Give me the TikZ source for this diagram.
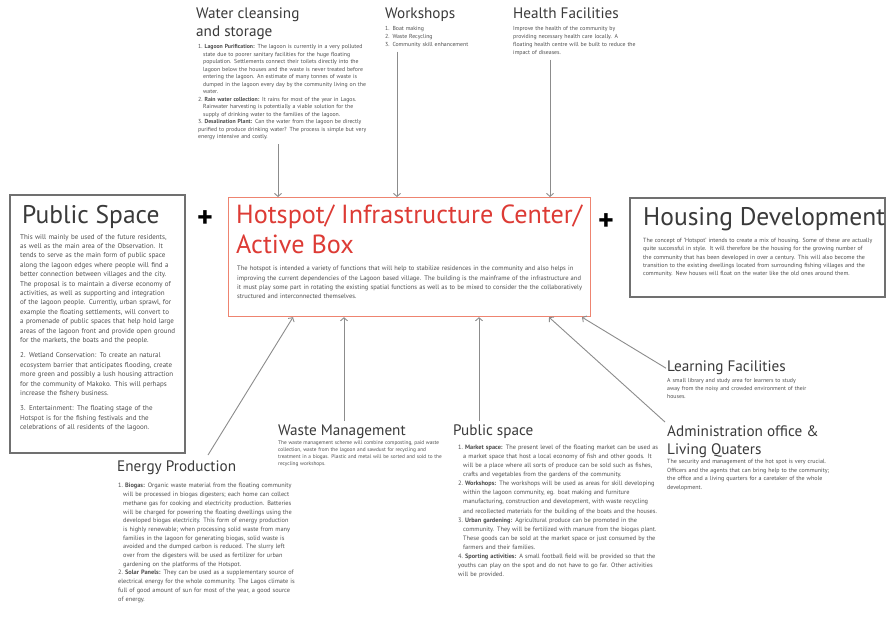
\documentclass[tikz,border=0pt]{standalone}
\usepackage{fontspec}
\setmainfont{PT Sans}
\usepackage{xcolor}
\usetikzlibrary{arrows.meta}
\definecolor{ink}{HTML}{3A3A3A}
\definecolor{grey}{HTML}{4E4E4E}
\definecolor{hotred}{HTML}{DD3B35}
\definecolor{hotline}{HTML}{EE8470}
\definecolor{wire}{HTML}{8C8C8C}
\definecolor{frame}{HTML}{707070}
\tikzset{
  bigtitle/.style={text=ink, inner sep=0pt, anchor=north west, font=\fontsize{25.5}{28}\selectfont},
  subtitle/.style={text=ink, inner sep=0pt, anchor=north west, align=left, font=\fontsize{15.2}{18}\selectfont},
  blurb/.style={text=grey, inner sep=0pt, anchor=north west, align=left},
  framebox/.style={draw=frame, line width=1.1pt},
  hubbox/.style={draw=hotline, line width=1.2pt, inner sep=0pt, anchor=north west},
  feed/.style={draw=wire, line width=0.9pt, -{Straight Barb[length=3pt,width=7pt]}},
  plus/.style={text=black, inner sep=0pt, font=\fontsize{30}{30}\selectfont\bfseries}
}
\newcommand{\txt}[2]{\fontsize{#1}{#2}\selectfont\hyphenpenalty=10000\exhyphenpenalty=10000}
\newcommand{\litem}[3]{\par\noindent\hangindent=5pt\hangafter=1 #1.~\textbf{#2} #3}

\begin{document}
\begin{tikzpicture}[x=1pt,y=-1pt]
  \fill[white] (0,0) rectangle (888,622);
  \useasboundingbox (0,0) rectangle (888,622);

  % centre box
  \node[hubbox, minimum width=362pt, minimum height=119pt] (hub) at (228,197) {};
  \node[text=hotred, inner sep=0pt, anchor=north west, align=left,
        font=\fontsize{26.2}{30}\selectfont] (hubtitle) at (236,205)
        {Hotspot/ Infrastructure Center/\\Active Box};
  \node[blurb, text width=345pt, font=\txt{6.5}{9.3}] (hubtext) at (237,266)
        {The hotspot is intended a variety of functions that will help to stabilize residences in the community and
         also helps in improving the current dependencies of the Lagoon based village. The building is the mainframe
         of the infrastructure and it must play some part in rotating the existing spatial functions as well as to be mixed to
         consider the the collaboratively structured and interconnected themselves.};

  % side boxes
  \draw[framebox] (10,195) rectangle (185,453);
  \node[bigtitle] (pubspace) at (22,205) {Public Space};
  \node[blurb, text width=156pt, font=\txt{7}{9.4}] (pubtext) at (20,234)
        {This will mainly be used of the future residents, as well as the main area of the
         Observation. It tends to serve as the main form of public space along the lagoon
         edges where people will find a better connection between villages and the city.
         The proposal is to maintain a diverse economy of activities, as well as
         supporting and integration of the lagoon people. Currently, urban sprawl, for example
         the floating settlements, will convert to a promenade of public spaces that help hold
         large areas of the lagoon front and provide open ground for the markets, the boats and
         the people.\par\vspace{6pt}
         \noindent 2. Wetland Conservation: To create an natural ecosystem barrier that anticipates
         flooding, create more green and possibly a lush housing attraction for the community of
         Makoko. This will perhaps increase the fishery business.\par\vspace{6pt}
         \noindent 3. Entertainment: The floating stage of the Hotspot is for the fishing festivals
         and the celebrations of all residents of the lagoon.};

  \draw[framebox] (630,198) rectangle (885,297);
  \node[bigtitle] (housing) at (643,207) {Housing Development};
  \node[blurb, text width=238pt, font=\txt{6}{8.3}] (housetext) at (643,238)
        {The concept of 'Hotspot' intends to create a mix of housing. Some of these are actually quite
         successful in style. It will therefore be the housing for the growing number of the community
         that has been developed in over a century. This will also become the transition to the existing
         dwellings located from surrounding fishing villages and the community. New houses will float
         on the water like the old ones around them.};

  \node[plus] (plusL) at (205,219) {+};
  \node[plus] (plusR) at (606,222) {+};

  % feeds from above
  \node[subtitle] (water) at (196,8) {Water cleansing\\and storage};
  \node[blurb, text width=170pt, font=\txt{5.8}{7.5}] (wbody) at (198,41)
        {\litem{1}{Lagoon Purification:}{The lagoon is currently in a very polluted state due to poorer
         sanitary facilities for the huge floating population. Settlements connect their toilets directly
         into the lagoon below the houses and the waste is never treated before entering the
         lagoon. An estimate of many tonnes of waste is dumped in the lagoon every day by the community
         living on the water.}
         \litem{2}{Rain water collection:}{It rains for most of the year in Lagos. Rainwater harvesting is
         potentially a viable solution for the supply of drinking water to the families of the lagoon.}
         \litem{3}{Desalination Plant:}{Can the water from the lagoon be directly purified to produce drinking
         water? The process is simple but very energy intensive and costly.}};
  \node[subtitle] (workshops) at (385,8) {Workshops};
  \node[blurb, text width=110pt, font=\txt{5.8}{8}] (wsbody) at (385,26)
        {1. Boat making\\2. Waste Recycling\\3. Community skill enhancement};
  \node[subtitle] (health) at (513,8) {Health Facilities};
  \node[blurb, text width=125pt, font=\txt{5.8}{8}] (hbody) at (513,26)
        {Improve the health of the community by providing necessary health care locally. A floating
         health centre will be built to reduce the impact of diseases.};

  \draw[feed] ([xshift=80pt,yshift=-4pt]wbody.south west) -- ([xshift=50pt]hub.north west);
  \draw[feed] ([xshift=12pt,yshift=-4pt]wsbody.south west) -- ([xshift=169pt]hub.north west);
  \draw[feed] ([xshift=37pt,yshift=-4pt]hbody.south west) -- ([xshift=322pt]hub.north west);

  % feeds from below
  \node[subtitle] (energy) at (117,461) {Energy Production};
  \node[blurb, text width=178pt, font=\txt{6.3}{8.7}] (ebody) at (118,479)
        {\litem{1}{Biogas:}{Organic waste material from the floating community will be processed in biogas
         digesters; each home can collect methane gas for cooking and electricity production. Batteries
         will be charged for powering the floating dwellings using the developed biogas electricity. This form
         of energy production is highly renewable; when processing solid waste from many families
         in the lagoon for generating biogas, solid waste is avoided and the dumped carbon is reduced.
         The slurry left over from the digesters will be used as fertilizer for urban gardening on the
         platforms of the Hotspot.}
         \litem{2}{Solar Panels:}{They can be used as a supplementary source of electrical energy for the whole
         community. The Lagos climate is full of good amount of sun for most of the year, a good source of energy.}};
  \node[subtitle] (waste) at (278,425) {Waste Management};
  \node[blurb, text width=172pt, font=\txt{5.3}{6.8}] (wastebody) at (278,441)
        {The waste management scheme will combine composting, paid waste collection, waste from the
         lagoon and sawdust for recycling and treatment in a biogas. Plastic and metal will be sorted and
         sold to the recycling workshops.};
  \node[subtitle] (pubsmall) at (453,425) {Public space};
  \node[blurb, text width=202pt, font=\txt{6.3}{9.1}] (pbody) at (458,440)
        {\litem{1}{Market space:}{The present level of the floating market can be used as a market space
         that host a local economy of fish and other goods. It will be a place where all sorts of produce can be
         sold such as fishes, crafts and vegetables from the gardens of the community.}
         \litem{2}{Workshops:}{The workshops will be used as areas for skill developing within the lagoon
         community, eg. boat making and furniture manufacturing, construction and development, with waste
         recycling and recollected materials for the building of the boats and the houses.}
         \litem{3}{Urban gardening:}{Agricultural produce can be promoted in the community. They will be
         fertilized with manure from the biogas plant. These goods can be sold at the market space or just
         consumed by the farmers and their families.}
         \litem{4}{Sporting activities:}{A small football field will be provided so that the youths can play on
         the spot and do not have to go far. Other activities will be provided.}};
  \node[subtitle] (learning) at (667,361) {Learning Facilities};
  \node[blurb, text width=140pt, font=\txt{5.8}{8}] (lbody) at (667,378)
        {A small library and study area for learners to study away from the noisy and crowded
         environment of their houses.};
  \node[subtitle] (admin) at (667,425) {Administration office \&\\Living Quaters};
  \node[blurb, text width=162pt, font=\txt{6}{8.6}] (abody) at (667,459)
        {The security and management of the hot spot is very crucial. Officers and the agents that can bring
         help to the community; the office and a living quarters for a caretaker of the whole development.};

  \draw[feed] ([xshift=91pt,yshift=6pt]energy.north west) -- ([xshift=65pt]hub.south west);
  \draw[feed] ([xshift=66pt,yshift=4pt]waste.north west) -- ([xshift=116pt]hub.south west);
  \draw[feed] ([xshift=26pt,yshift=4pt]pubsmall.north west) -- ([xshift=251pt]hub.south west);
  \draw[feed] ([xshift=-2pt,yshift=3pt]admin.north west) -- ([xshift=321pt]hub.south west);
  \draw[feed] ([xshift=-1pt]learning.west) -- ([xshift=354pt]hub.south west);
\end{tikzpicture}
\end{document}
